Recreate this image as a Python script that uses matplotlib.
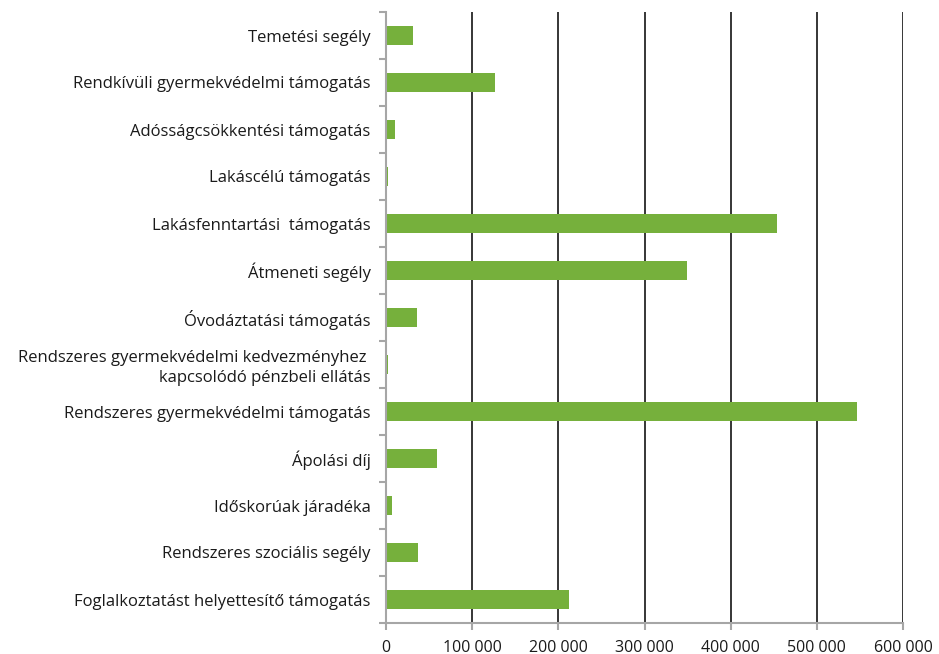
import matplotlib
matplotlib.use("Agg")
import matplotlib.pyplot as plt
import numpy as np
from matplotlib.ticker import FuncFormatter, FixedLocator

categories = [
    "Temetési segély",
    "Rendkívüli gyermekvédelmi támogatás",
    "Adósságcsökkentési támogatás",
    "Lakáscélú támogatás",
    "Lakásfenntartási  támogatás",
    "Átmeneti segély",
    "Óvodáztatási támogatás",
    "Rendszeres gyermekvédelmi kedvezményhez \nkapcsolódó pénzbeli ellátás",
    "Rendszeres gyermekvédelmi támogatás",
    "Ápolási díj",
    "Időskorúak járadéka",
    "Rendszeres szociális segély",
    "Foglalkoztatást helyettesítő támogatás",
]
values = [31000, 127000, 11000, 2500, 454000, 349000, 36000, 2500, 547000, 59000, 7000, 37000, 212000]
x_ticks = [0, 100000, 200000, 300000, 400000, 500000, 600000]

plt.rcParams['font.family'] = ['Open Sans', 'DejaVu Sans']

fig = plt.figure(figsize=(9.39, 6.54), dpi=100)
ax = fig.add_axes([386/939, 1-623/654, (903-386)/939, (623-12)/654])

n = len(categories)
ypos = np.arange(n)[::-1]
ax.barh(ypos, values, height=0.4, color="#76b03c", zorder=3)

ax.set_xlim(0, 600000)
ax.set_ylim(-0.5, n - 0.5)
ax.set_xticks(x_ticks)
ax.xaxis.set_major_formatter(FuncFormatter(lambda v, p: f"{int(v):,}".replace(",", " ")))
for xv in x_ticks[1:]:
    ax.axvline(xv, color="black", lw=1.1, zorder=1)

ax.set_yticks(ypos)
ax.set_yticklabels(categories, ha="right", multialignment="right", linespacing=1.25)
ax.yaxis.set_minor_locator(FixedLocator(np.arange(-0.5, n, 1.0)))
ax.tick_params(axis="y", which="major", length=0, pad=11, labelsize=12, labelcolor="#1a1a1a")
ax.tick_params(axis="y", which="minor", length=5, width=1.5, color="#a6a6a6")
ax.tick_params(axis="x", which="major", length=5, width=1.5, color="#a6a6a6", labelsize=11.5, labelcolor="#1a1a1a", pad=7)

for s in ["top", "right"]:
    ax.spines[s].set_visible(False)
for s in ["left", "bottom"]:
    ax.spines[s].set_color("#a6a6a6")
    ax.spines[s].set_linewidth(1.5)
    ax.spines[s].set_zorder(4)

fig.savefig("out.png", dpi=100)
